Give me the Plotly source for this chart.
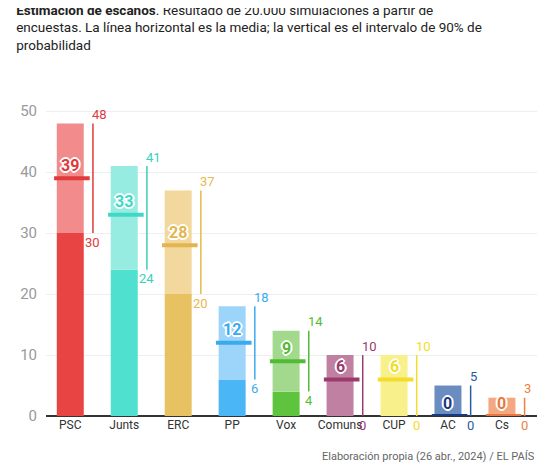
import plotly.graph_objects as go

# === Data ===
parties = ["PSC", "Junts", "ERC", "PP", "Vox", "Comuns", "CUP", "AC", "Cs"]
mean = [39, 33, 28, 12, 9, 6, 6, 0, 0]
lower = [30, 24, 20, 6, 4, 0, 0, 0, 0]
upper = [48, 41, 37, 18, 14, 10, 10, 5, 3]

dark = ["#e84444", "#4fe0d0", "#e8c262", "#4ab6f6", "#5ec43e", "#c080a2", "#f8f08a", "#6a8cc0", "#f4a882"]
light = ["#f28c8c", "#97ece2", "#f2d89c", "#9cd4fa", "#a2d98c", "#c080a2", "#f8f08a", "#6a8cc0", "#f4a882"]
accent = ["#e03a3a", "#3fd8c6", "#e3b550", "#3aaaf0", "#52bb34", "#9a3a6e", "#f3dd2a", "#1a3a80", "#e8783e"]
text_col = ["#e03a3a", "#38d0be", "#e6b94c", "#3aaaf0", "#52bb34", "#9a3a6e", "#f3dd2a", "#2a5aa0", "#f08040"]

x = list(range(len(parties)))
fig = go.Figure()

# dark part (0 -> lower)
fig.add_trace(go.Bar(x=x, y=lower, marker_color=dark, width=0.5,
                     marker_line_width=0, hoverinfo="skip"))
# light part (lower -> upper)
fig.add_trace(go.Bar(x=x, y=[u - l for u, l in zip(upper, lower)], base=lower,
                     marker_color=light, width=0.5, marker_line_width=0, hoverinfo="skip"))

outline = "1px 1px 0 #fff, -1px -1px 0 #fff, 1px -1px 0 #fff, -1px 1px 0 #fff, 0 2px 0 #fff, 0 -2px 0 #fff, 2px 0 0 #fff, -2px 0 0 #fff"

for i in x:
    # mean line
    fig.add_shape(type="line", x0=i - 0.3, x1=i + 0.36, y0=mean[i], y1=mean[i],
                  line=dict(color=accent[i], width=4))
    # interval line
    fig.add_shape(type="line", x0=i + 0.42, x1=i + 0.42, y0=lower[i], y1=upper[i],
                  line=dict(color=text_col[i], width=1.5))
    fig.add_annotation(x=i + 0.42, y=upper[i], text=str(upper[i]), showarrow=False,
                       yshift=9, xanchor="left", xshift=-3, font=dict(color=text_col[i], size=13))
    fig.add_annotation(x=i + 0.42, y=lower[i], text=str(lower[i]), showarrow=False,
                       yshift=-9, xanchor="center", xshift=0, font=dict(color=text_col[i], size=13))
    # mean label
    fig.add_annotation(x=i, y=mean[i], text="<b>%d</b>" % mean[i], showarrow=False,
                       yshift=13, font=dict(color=accent[i], size=16, shadow=outline))

fig.add_annotation(xref="paper", yref="paper", x=1.0, y=-0.1, xanchor="right", yanchor="top",
                   showarrow=False, text="Elaboración propia (26 abr., 2024) / EL PAÍS",
                   font=dict(size=11, color="#666"))

fig.update_layout(
    title=dict(text="<b>Estimación de escaños</b>. Resultado de 20.000 simulaciones a partir de<br>"
                    "encuestas. La línea horizontal es la media; la vertical es el intervalo de 90% de<br>"
                    "probabilidad",
               xref="container", yref="container", x=0.015, xanchor="left",
               y=0.985, yanchor="top", font=dict(size=13.5, color="#222")),
    barmode="overlay", showlegend=False,
    plot_bgcolor="white", paper_bgcolor="white",
    font=dict(family="Roboto, sans-serif"),
    margin=dict(l=30, r=15, t=91, b=52),
)
fig.update_xaxes(range=[-0.45, 8.65], tickmode="array", tickvals=x, ticktext=parties,
                 showgrid=False, tickfont=dict(size=12, color="#333"), ticks="")
fig.update_yaxes(range=[0, 52], tickvals=[0, 10, 20, 30, 40, 50], gridcolor="#eee",
                 zeroline=True, zerolinecolor="#333", zerolinewidth=1.5,
                 tickfont=dict(size=15, color="#999"), ticklabelstandoff=8)

fig.write_html("out.html")
